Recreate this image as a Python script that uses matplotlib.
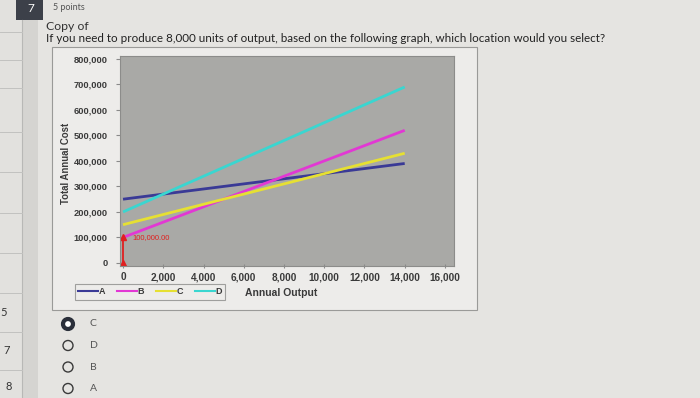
import matplotlib.pyplot as plt
from matplotlib.patches import Rectangle, Circle
from matplotlib.lines import Line2D

# Данные графика
x_output = [0, 2000, 4000, 6000, 8000, 10000, 12000, 14000]
cost_a = [250000, 270000, 290000, 310000, 330000, 350000, 370000, 390000]
cost_b = [100000, 160000, 220000, 280000, 340000, 400000, 460000, 520000]
cost_c = [150000, 190000, 230000, 270000, 310000, 350000, 390000, 430000]
cost_d = [200000, 270000, 340000, 410000, 480000, 550000, 620000, 690000]
series_names = ['A', 'B', 'C', 'D']
series_colors = ['#3a3a96', '#e238d4', '#e6e032', '#3ad6d0']

fixed_x = [0, 0]
fixed_y = [0, 100000]
fixed_label = '100,000.00'

y_ticks = [0, 100000, 200000, 300000, 400000, 500000, 600000, 700000, 800000]
x_ticks = [0, 2000, 4000, 6000, 8000, 10000, 12000, 14000, 16000]

answers = ['C', 'D', 'B', 'A']
question = 'If you need to produce 8,000 units of output, based on the following graph, which location would you select?'

W, H = 700, 398
page_bg = '#e5e4e1'
box_bg = '#edecea'
plot_bg = '#a9a9a6'
text_col = '#3a3a3a'

fig = plt.figure(figsize=(7, 3.98), dpi=100)
fig.patch.set_facecolor(page_bg)

# Фон страницы в пиксельных координатах
bg = fig.add_axes([0, 0, 1, 1])
bg.set_xlim(0, W)
bg.set_ylim(H, 0)
bg.axis('off')

# Левая панель с номерами вопросов
bg.add_patch(Rectangle((0, 0), 22, H, facecolor='#e2e1de', edgecolor='none'))
bg.add_patch(Rectangle((22, 0), 16, H, facecolor='#d5d4d1', edgecolor='none'))
bg.plot([22, 22], [20, H], color='#b8b8b6', lw=0.8)
for yy in [32, 60, 88, 132, 172, 213, 253, 293, 332, 370]:
    bg.plot([0, 22], [yy, yy], color='#c2c2c0', lw=0.7)
bg.text(0, 312, '5', fontsize=8, color='#333333', va='center', ha='left', family='Lato')
bg.text(3, 350, '7', fontsize=8, color='#333333', va='center', ha='left', family='Lato')
bg.text(5, 387, '8', fontsize=8, color='#333333', va='center', ha='left', family='Lato')

# Заголовок вопроса
bg.add_patch(Rectangle((16, 0), 27, 20, facecolor='#3c4049', edgecolor='none'))
bg.text(31, 9, '7', fontsize=8.5, color='white', ha='center', va='center', family='Lato')
bg.text(53, 7, '5 points', fontsize=6.5, color='#555555', ha='left', va='center', family='Lato')
bg.text(46, 26, 'Copy of', fontsize=8.8, color='#333333', ha='left', va='center', family='Lato')
bg.text(46, 39, question, fontsize=8.4, color='#222222', ha='left', va='center', family='Lato')

# Рамка диаграммы
bg.add_patch(Rectangle((52, 47), 425, 263, facecolor=box_bg, edgecolor='#9a9a98', lw=0.8))

# Варианты ответа
for i, name in enumerate(answers):
    cy = 324 + i * 21.5
    if i == 0:
        bg.add_patch(Circle((68, cy), 5, facecolor='white', edgecolor='#2a2f3a', lw=3))
    else:
        bg.add_patch(Circle((68, cy), 5, facecolor='none', edgecolor='#3a3a3a', lw=1))
    bg.text(90, cy, name, fontsize=7.5, color='#555555', ha='left', va='center', family='Lato')

# Основной график
left, right, top, bottom = 120, 454, 56, 266
ax = fig.add_axes([left / W, 1 - bottom / H, (right - left) / W, (bottom - top) / H])
ax.set_facecolor(plot_bg)

all_costs = [cost_a, cost_b, cost_c, cost_d]
for vals, name, col in zip(all_costs, series_names, series_colors):
    ax.plot(x_output, vals, color=col, lw=2, label=name, solid_capstyle='butt')

ax.plot(fixed_x, fixed_y, color='#e02020', lw=1.3, marker='^', markersize=4)
ax.text(fixed_x[1] + 450, fixed_y[1], fixed_label, color='#e02020', fontsize=5.5,
        ha='left', va='center', family='Liberation Sans')

ax.set_xlim(-150, 16450)
ax.set_ylim(-12000, 811500)
ax.set_xticks(x_ticks)
ax.set_yticks(y_ticks)
ax.set_xticklabels([f'{v:,}' for v in x_ticks])
ax.set_yticklabels([f'{v:,}' for v in y_ticks])
for lab in ax.get_xticklabels():
    lab.set_fontsize(7.2)
for lab in ax.get_yticklabels():
    lab.set_fontsize(6.7)
for lab in ax.get_xticklabels() + ax.get_yticklabels():
    lab.set_fontweight('bold')
    lab.set_family('Liberation Sans')
    lab.set_color(text_col)
ax.tick_params(axis='x', length=3, pad=3, color='#8a8a8a', direction='inout')
ax.tick_params(axis='y', length=3, pad=6, color='#8a8a8a')
for sp in ax.spines.values():
    sp.set_color('#8c8c8a')
    sp.set_linewidth(0.8)

bg.text(66, 163, 'Total Annual Cost', rotation=90, fontsize=6.9, fontweight='bold',
        color=text_col, ha='center', va='center', family='Liberation Sans')
bg.text(245, 293, 'Annual Output', fontsize=7.5, fontweight='bold',
        color=text_col, ha='left', va='center', family='Liberation Sans')

# Легенда
handles = [Line2D([0], [0], color=c, lw=1.5) for c in series_colors]
leg = fig.legend(handles, series_names, ncol=4, loc='center',
                 bbox_to_anchor=(150 / W, 1 - 292 / H), frameon=True, fancybox=False,
                 handlelength=2.2, handletextpad=0.1, columnspacing=1.3,
                 borderpad=0.35, prop={'family': 'Liberation Sans', 'size': 6.5, 'weight': 'bold'})
leg.get_frame().set_edgecolor('#8c8c8a')
leg.get_frame().set_facecolor(box_bg)
leg.get_frame().set_linewidth(0.8)
for t in leg.get_texts():
    t.set_color(text_col)

plt.savefig('out.png', dpi=100, facecolor=fig.get_facecolor())
